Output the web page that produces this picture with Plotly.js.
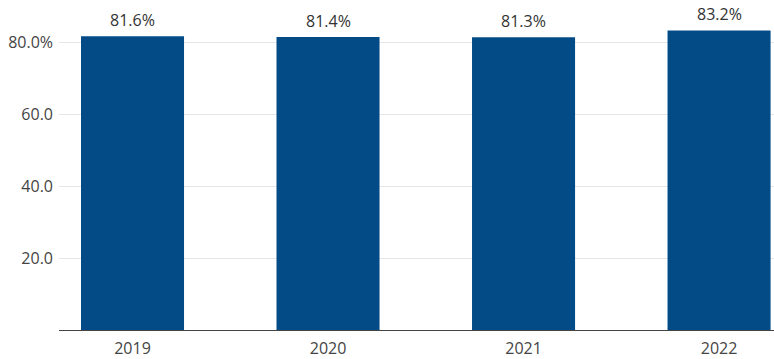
<!DOCTYPE html>
<html>
<head>
<meta charset="utf-8">
<script src="https://cdn.plot.ly/plotly-3.0.1.min.js"></script>
<style>html,body{margin:0;padding:0;background:#fff;}#chart{width:774px;height:359px;}</style>
</head>
<body>
<div id="chart"></div>
<script>
const years = ['2019', '2020', '2021', '2022'];
const values = [81.6, 81.4, 81.3, 83.2];
const yTickVals = [20, 40, 60, 80];
const yTickText = ['20.0', '40.0', '60.0', '80.0%'];

const trace = {
  type: 'bar',
  x: years,
  y: values,
  marker: {color: '#024b87'},
  width: 0.527,
  hoverinfo: 'skip'
};

const annotations = years.map((yr, i) => ({
  x: i, y: values[i], xref: 'x', yref: 'y',
  text: values[i].toFixed(1) + '%',
  showarrow: false, xanchor: 'center', yanchor: 'bottom', yshift: 3,
  font: {family: 'Open Sans, sans-serif', size: 16, color: '#333333'}
}));

const layout = {
  width: 774, height: 359,
  margin: {l: 59, r: 0, t: 6, b: 29},
  paper_bgcolor: '#ffffff', plot_bgcolor: '#ffffff',
  showlegend: false,
  xaxis: {
    type: 'category',
    range: [-0.376, 3.281],
    showline: true, linecolor: '#444444', linewidth: 1,
    showgrid: false, ticks: '',
    ticklabelstandoff: 4,
    tickfont: {family: 'Open Sans, sans-serif', size: 16, color: '#444444'}
  },
  yaxis: {
    range: [0, 90],
    tickvals: yTickVals, ticktext: yTickText,
    showgrid: true, gridcolor: '#e6e6e6', gridwidth: 1,
    zeroline: false, showline: false, ticks: '',
    ticklabelstandoff: 5,
    tickfont: {family: 'Open Sans, sans-serif', size: 16, color: '#444444'}
  },
  annotations: annotations
};

Plotly.newPlot('chart', [trace], layout, {displayModeBar: false});
</script>
</body>
</html>
